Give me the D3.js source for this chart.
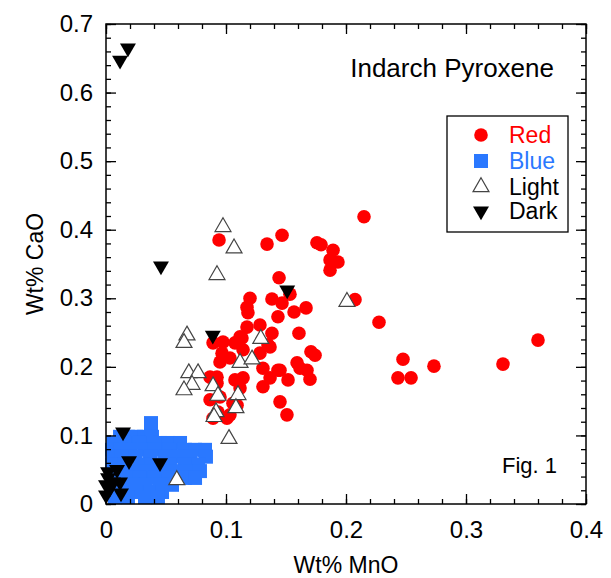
<!DOCTYPE html>
<html>
<head>
<meta charset="utf-8">
<script src="https://cdn.jsdelivr.net/npm/d3@7"></script>
<style>
  body { margin: 0; background: #fff; }
  text { font-family: "Liberation Sans", Arial, Helvetica, sans-serif; }
</style>
</head>
<body>
<div id="chart"></div>
<script>
// data: [Wt% MnO, Wt% CaO]
var redPoints = [
  [0.215, 0.419], [0.2075, 0.298], [0.2275, 0.265], [0.2475, 0.211], [0.2433, 0.184],
  [0.2542, 0.184], [0.2733, 0.201], [0.3308, 0.204], [0.36, 0.239],
  [0.1758, 0.381], [0.1792, 0.378], [0.1892, 0.370], [0.1867, 0.356], [0.1933, 0.353],
  [0.1867, 0.341], [0.1467, 0.392], [0.1342, 0.379], [0.0942, 0.385], [0.1442, 0.330],
  [0.1533, 0.306], [0.1567, 0.280], [0.1667, 0.286], [0.1608, 0.249], [0.1708, 0.222],
  [0.1742, 0.217], [0.1592, 0.206], [0.1617, 0.198], [0.17, 0.182], [0.1517, 0.181],
  [0.145, 0.195], [0.12, 0.300], [0.1175, 0.287], [0.1183, 0.279], [0.1383, 0.299],
  [0.1467, 0.293], [0.1433, 0.273], [0.1283, 0.261], [0.1175, 0.258], [0.1383, 0.249],
  [0.1133, 0.242], [0.1075, 0.235], [0.0975, 0.236], [0.0892, 0.235], [0.0967, 0.220],
  [0.1033, 0.213], [0.1142, 0.225], [0.1283, 0.220], [0.1367, 0.229], [0.1308, 0.198],
  [0.1433, 0.195], [0.1675, 0.195], [0.0925, 0.185], [0.0867, 0.185], [0.1075, 0.181],
  [0.1142, 0.184], [0.1367, 0.184], [0.1117, 0.244], [0.095, 0.207], [0.135, 0.232],
  [0.1308, 0.171], [0.0925, 0.176], [0.1117, 0.169], [0.0867, 0.152], [0.095, 0.156],
  [0.1092, 0.144], [0.145, 0.149], [0.1508, 0.130], [0.0892, 0.125], [0.1008, 0.125],
  [0.0933, 0.134], [0.1033, 0.130], [0.1058, 0.147]
];

var bluePoints = [
  [0.0375, 0.118],
  [0.0117, 0.098], [0.0183, 0.098], [0.025, 0.098], [0.0317, 0.098], [0.0383, 0.098],
  [0.006, 0.089], [0.0158, 0.089], [0.0283, 0.089], [0.045, 0.089], [0.0517, 0.089], [0.0617, 0.089],
  [0.005, 0.079], [0.0117, 0.079], [0.020, 0.079], [0.0325, 0.079], [0.0408, 0.079], [0.0533, 0.079],
  [0.0658, 0.079], [0.0742, 0.079], [0.0825, 0.079],
  [0.006, 0.069], [0.0133, 0.069], [0.0242, 0.069], [0.0367, 0.069], [0.0492, 0.069], [0.06, 0.069],
  [0.07, 0.069], [0.0833, 0.069],
  [0.005, 0.058], [0.0158, 0.058], [0.0283, 0.058], [0.0383, 0.058], [0.0533, 0.058], [0.0658, 0.058],
  [0.0767, 0.058],
  [0.010, 0.048], [0.020, 0.048], [0.0325, 0.048], [0.045, 0.048], [0.0575, 0.048], [0.07, 0.048],
  [0.0783, 0.048],
  [0.0075, 0.038], [0.0183, 0.038], [0.0283, 0.038], [0.0408, 0.038], [0.0517, 0.038], [0.0658, 0.038],
  [0.0742, 0.038],
  [0.010, 0.028], [0.0217, 0.028], [0.0325, 0.028], [0.045, 0.028], [0.055, 0.028],
  [0.0117, 0.0175], [0.0242, 0.0175], [0.0367, 0.0175], [0.0467, 0.0175],
  [0.0075, 0.010], [0.0183, 0.010], [0.0325, 0.010], [0.0433, 0.010]
];

var lightPoints = [
  [0.0975, 0.404], [0.1067, 0.373], [0.0925, 0.334], [0.0675, 0.246], [0.065, 0.235],
  [0.2008, 0.295], [0.1117, 0.206], [0.1217, 0.211], [0.129, 0.241], [0.069, 0.191],
  [0.0767, 0.191], [0.0717, 0.174], [0.065, 0.166], [0.0892, 0.172], [0.0933, 0.158],
  [0.11, 0.159], [0.1083, 0.140], [0.0917, 0.134], [0.09, 0.127], [0.1025, 0.095],
  [0.059, 0.035]
];

var darkPoints = [
  [0.0183, 0.665], [0.0117, 0.647], [0.0458, 0.347], [0.151, 0.312], [0.089, 0.246],
  [0.0142, 0.105], [0.0192, 0.063], [0.045, 0.060], [0.0092, 0.050], [0.0017, 0.038],
  [0.0, 0.028], [0.0033, 0.023], [0.0058, 0.032], [0.0117, 0.032], [0.0125, 0.016],
  [0.0, 0.013], [0.0017, 0.047]
];

var xMajor = [0, 0.1, 0.2, 0.3, 0.4];
var xLabels = ["0", "0.1", "0.2", "0.3", "0.4"];
var yMajor = [0, 0.1, 0.2, 0.3, 0.4, 0.5, 0.6, 0.7];
var yLabels = ["0", "0.1", "0.2", "0.3", "0.4", "0.5", "0.6", "0.7"];
var minorStep = 0.02;

var legendNames = ["Red", "Blue", "Light", "Dark"];

// svg area
var svgWidth = 611;
var svgHeight = 578;
var margin = { top: 24, left: 106, right: 25, bottom: 74 };
var width = svgWidth - margin.left - margin.right;
var height = svgHeight - margin.top - margin.bottom;

var svg = d3.select("#chart").append("svg")
  .attr("width", svgWidth)
  .attr("height", svgHeight);

var g = svg.append("g")
  .attr("transform", `translate(${margin.left}, ${margin.top})`);

var x = d3.scaleLinear().domain([0, 0.4]).range([0, width]);
var y = d3.scaleLinear().domain([0, 0.7]).range([height, 0]);

var xMinor = d3.range(0, 0.4001, minorStep);
var yMinor = d3.range(0, 0.7001, minorStep);

// markers
var redColor = "#ff0000";
var blueColor = "#2a78ff";
var triUp = d3.symbol().type(d3.symbolTriangle).size(110);

g.selectAll(".red").data(redPoints).enter().append("circle")
  .attr("cx", d => x(d[0]))
  .attr("cy", d => y(d[1]))
  .attr("r", 6.8)
  .attr("fill", redColor);

g.selectAll(".blue").data(bluePoints).enter().append("rect")
  .attr("x", d => x(d[0]) - 7)
  .attr("y", d => y(d[1]) - 7)
  .attr("width", 14)
  .attr("height", 14)
  .attr("fill", blueColor);

g.selectAll(".light").data(lightPoints).enter().append("path")
  .attr("d", triUp)
  .attr("transform", d => `translate(${x(d[0])}, ${y(d[1])})`)
  .attr("fill", "#fff")
  .attr("stroke", "#444")
  .attr("stroke-width", 1.2);

g.selectAll(".dark").data(darkPoints).enter().append("path")
  .attr("d", triUp)
  .attr("transform", d => `translate(${x(d[0])}, ${y(d[1])}) rotate(180)`)
  .attr("fill", "#000");

// axes, ticks inside on all four sides
function styleAxis(sel) {
  sel.selectAll("path").remove();
  sel.selectAll("line").attr("stroke", "#000").attr("stroke-width", 1.3);
  sel.selectAll("text").attr("font-size", 24).attr("fill", "#000")
    .attr("font-family", "Liberation Sans, Arial, sans-serif");
}

g.append("g").attr("transform", `translate(0, ${height})`)
  .call(d3.axisBottom(x).tickValues(xMinor).tickSize(-5).tickFormat(""))
  .call(styleAxis);
g.append("g").attr("transform", `translate(0, ${height})`)
  .call(d3.axisBottom(x).tickValues(xMajor).tickSize(-10).tickPadding(17)
    .tickFormat((d, i) => xLabels[i]))
  .call(styleAxis);
g.append("g")
  .call(d3.axisTop(x).tickValues(xMinor).tickSize(-5).tickFormat(""))
  .call(styleAxis);
g.append("g")
  .call(d3.axisTop(x).tickValues(xMajor).tickSize(-10).tickFormat(""))
  .call(styleAxis);

g.append("g")
  .call(d3.axisLeft(y).tickValues(yMinor).tickSize(-5).tickFormat(""))
  .call(styleAxis);
g.append("g")
  .call(d3.axisLeft(y).tickValues(yMajor).tickSize(-10).tickPadding(13)
    .tickFormat((d, i) => yLabels[i]))
  .call(styleAxis);
g.append("g").attr("transform", `translate(${width}, 0)`)
  .call(d3.axisRight(y).tickValues(yMinor).tickSize(-5).tickFormat(""))
  .call(styleAxis);
g.append("g").attr("transform", `translate(${width}, 0)`)
  .call(d3.axisRight(y).tickValues(yMajor).tickSize(-10).tickFormat(""))
  .call(styleAxis);

// frame
g.append("rect")
  .attr("width", width)
  .attr("height", height)
  .attr("fill", "none")
  .attr("stroke", "#000")
  .attr("stroke-width", 1.5);

// axis titles
g.append("text")
  .attr("x", width / 2)
  .attr("y", height + 69)
  .attr("text-anchor", "middle")
  .attr("font-size", 23)
  .text("Wt% MnO");

g.append("text")
  .attr("transform", "rotate(-90)")
  .attr("x", -(y(0.35)))
  .attr("y", -63)
  .attr("text-anchor", "middle")
  .attr("font-size", 23)
  .text("Wt% CaO");

// title and figure label
g.append("text")
  .attr("x", 448)
  .attr("y", 53)
  .attr("text-anchor", "end")
  .attr("font-size", 26)
  .text("Indarch Pyroxene");

g.append("text")
  .attr("x", 451)
  .attr("y", 449)
  .attr("text-anchor", "end")
  .attr("font-size", 22)
  .text("Fig. 1");

// legend
var legend = g.append("g").attr("transform", "translate(341, 92)");
legend.append("rect")
  .attr("width", 121)
  .attr("height", 116)
  .attr("fill", "#fff")
  .attr("stroke", "#000")
  .attr("stroke-width", 1.3);

var rowY = [19, 45, 71, 95];
legend.append("circle").attr("cx", 34).attr("cy", rowY[0]).attr("r", 6.8).attr("fill", redColor);
legend.append("rect").attr("x", 27).attr("y", rowY[1] - 7).attr("width", 14).attr("height", 14).attr("fill", blueColor);
legend.append("path").attr("d", triUp).attr("transform", `translate(34, ${rowY[2]})`)
  .attr("fill", "#fff").attr("stroke", "#444").attr("stroke-width", 1.2);
legend.append("path").attr("d", triUp).attr("transform", `translate(34, ${rowY[3]}) rotate(180)`)
  .attr("fill", "#000");

var legendColors = [redColor, blueColor, "#000", "#000"];
legend.selectAll(".lt").data(legendNames).enter().append("text")
  .attr("x", 62)
  .attr("y", (d, i) => rowY[i] + 8)
  .attr("font-size", 23)
  .attr("fill", (d, i) => legendColors[i])
  .text(d => d);
</script>
</body>
</html>
